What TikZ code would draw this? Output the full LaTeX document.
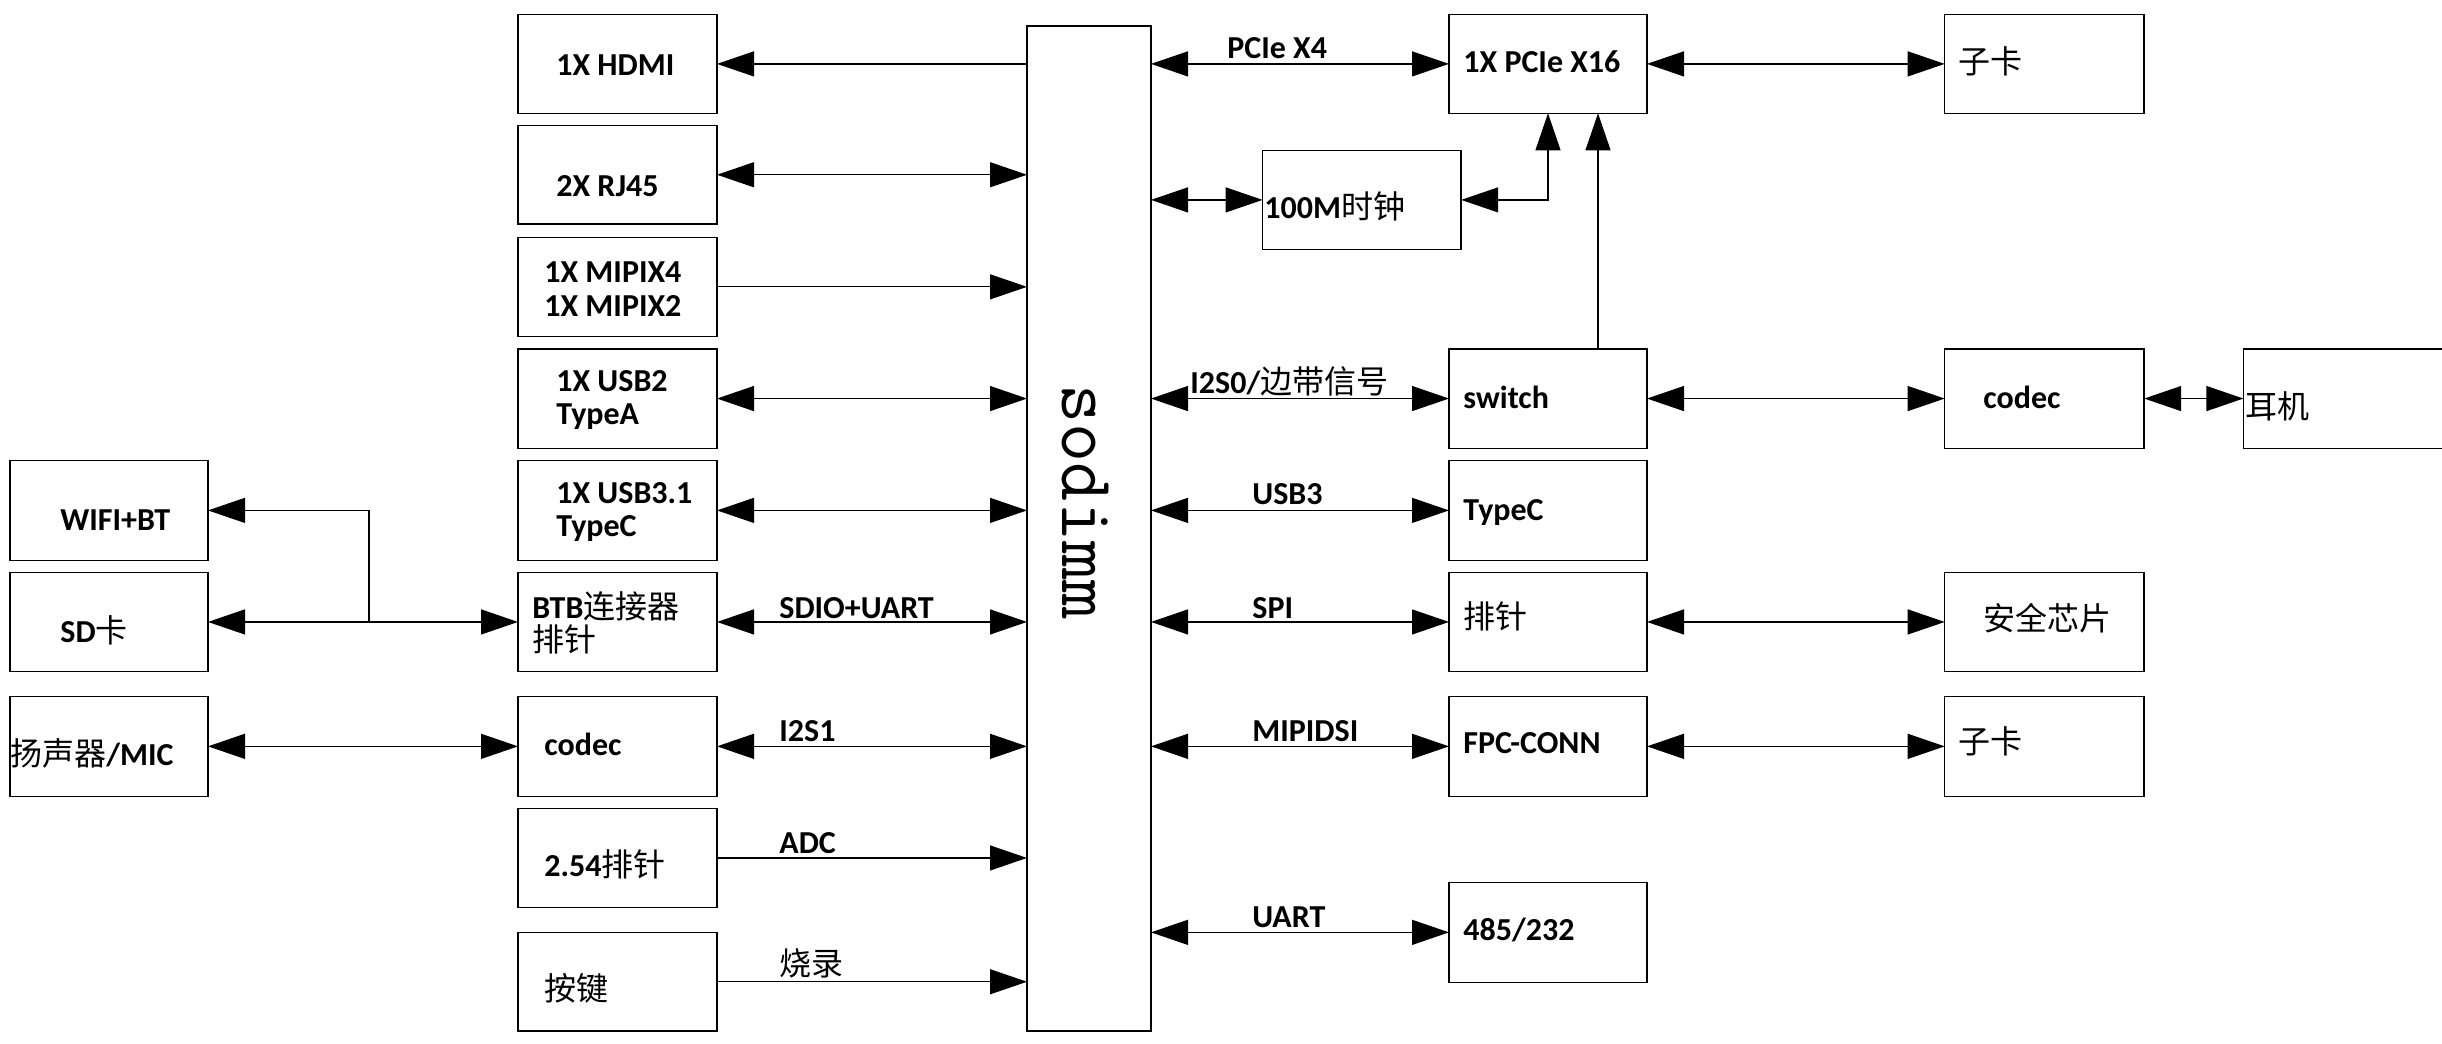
\documentclass[tikz,border=0pt]{standalone}
\usepackage{fontspec}
\setmainfont{Carlito}
\newfontfamily\zhfont{Noto Sans CJK SC}
\usetikzlibrary{arrows.meta}
\newcommand\zh[1]{{\zhfont\mdseries #1}}
\newcommand\bx[5]{\node[box, minimum width=(#4-#2)*0.5pt, minimum height=(#5-#3)*0.5pt] (#1) at ({(#2+#4)/2},{(#3+#5)/2}) {};}
\begin{document}
\begin{tikzpicture}[x=0.5pt,y=-0.5pt,
  box/.style={draw, line width=0.75pt, inner sep=0pt, outer sep=0pt},
  ln/.style={line width=0.6pt},
  >={Triangle[length=18.5pt,width=12.5pt]},
  lb/.style={anchor=base west, inner sep=0pt, font=\bfseries\fontsize{16}{16.5}\selectfont},
  lb2/.style={anchor=west, inner sep=0pt, align=left, font=\bfseries\fontsize{16}{16.8}\selectfont}]
\useasboundingbox (0,0) rectangle (2442,1044);
% left column
\bx{hdmi}{518}{14.5}{717}{113.3}
\bx{rj}{518}{125.3}{717}{224.2}
\bx{mipi}{518}{237.3}{717}{336.4}
\bx{usbtwo}{518}{348.8}{717}{448.3}
\bx{usbthree}{518}{460.4}{717}{560.4}
\bx{btb}{518}{572.5}{717}{671.4}
\bx{codecL}{518}{696.4}{717}{796.3}
\bx{pin}{518}{808.5}{717}{907.4}
\bx{key}{518}{932.3}{717}{1031.2}
% far left
\bx{wifi}{10}{460.4}{208}{560.4}
\bx{sd}{10}{572.5}{208}{671.4}
\bx{spk}{10}{696.4}{208}{796.3}
% sodimm
\bx{sod}{1027}{25.8}{1151}{1031.2}
% right side
\bx{pcie}{1449}{14.5}{1647}{113.3}
\bx{zkone}{1944.7}{14.5}{2144.2}{113.3}
\bx{clk}{1262.6}{150.5}{1461.2}{249.3}
\bx{sw}{1449}{348.8}{1647}{448.3}
\bx{codecR}{1944.7}{348.8}{2144.2}{448.3}
\bx{ej}{2243.4}{348.8}{2452}{448.3}
\bx{typecR}{1449}{460.4}{1647}{560.4}
\bx{pinR}{1449}{572.5}{1647}{671.4}
\bx{chip}{1944.7}{572.5}{2144.2}{671.4}
\bx{fpc}{1449}{696.4}{1647}{796.3}
\bx{zktwo}{1944.7}{696.4}{2144.2}{796.3}
\bx{rs}{1449}{882.4}{1647}{982.3}

% texts
\node[lb] (t1) at (556,75) {1X HDMI};
\node[lb] (t2) at (556,196) {2X RJ45};
\node[lb2] (t3) at (544,289) {1X MIPIX4\\1X MIPIX2};
\node[lb2] (t4) at (556,400) {1X USB2\\TypeA};
\node[lb2] (t5) at (556,512) {1X USB3.1\\TypeC};
\node[lb2] (t6) at (532,623) {BTB\zh{连接器}\\\zh{排针}};
\node[lb] (t7) at (544,755) {codec};
\node[lb] (t8) at (544,876) {2.54\zh{排针}};
\node[lb] (t9) at (544,1000) {\zh{按键}};
\node[lb] (t10) at (60,530) {WIFI+BT};
\node[lb] (t11) at (60,642) {SD\zh{卡}};
\node[lb] (t12) at (10,765) {\zh{扬声器}/MIC};
\node[lb] (t13) at (779,618) {SDIO+UART};
\node[lb] (t14) at (779,741) {I2S1};
\node[lb] (t15) at (779,853) {ADC};
\node[lb] (t16) at (779,975) {\zh{烧录}};
\node[lb] (t17) at (1227,58) {PCIe X4};
\node[lb] (t18) at (1190,393) {I2S0/\zh{边带信号}};
\node[lb] (t19) at (1252,504) {USB3};
\node[lb] (t20) at (1252,618) {SPI};
\node[lb] (t21) at (1252,741) {MIPIDSI};
\node[lb] (t22) at (1252,927) {UART};
\node[lb] (t23) at (1463,72) {1X PCIe X16};
\node[lb] (t24) at (1958,73) {\zh{子卡}};
\node[lb] (t25) at (1264,218) {100M\zh{时钟}};
\node[lb] (t26) at (1463,408) {switch};
\node[lb] (t27) at (1983,408) {codec};
\node[lb] (t28) at (2245,418) {\zh{耳机}};
\node[lb] (t29) at (1463,520) {TypeC};
\node[lb] (t30) at (1463,628) {\zh{排针}};
\node[lb] (t31) at (1983,630) {\zh{安全芯片}};
\node[lb] (t32) at (1463,753) {FPC-CONN};
\node[lb] (t33) at (1958,753) {\zh{子卡}};
\node[lb] (t34) at (1463,940) {485/232};
\node[rotate=-90, inner sep=0pt, font=\ttfamily\mdseries\fontsize{38}{40}\selectfont] (sodtxt) at (1085,502) {sodimm};

% left connectors
\draw[ln,->] (hdmi.east -| sod.west) -- (hdmi.east);
\draw[ln,<->] (rj.east) -- (rj.east -| sod.west);
\draw[ln,->] (mipi.east) -- (mipi.east -| sod.west);
\draw[ln,<->] (usbtwo.east) -- (usbtwo.east -| sod.west);
\draw[ln,<->] (usbthree.east) -- (usbthree.east -| sod.west);
\draw[ln,<->] (btb.east) -- (btb.east -| sod.west);
\draw[ln,<->] (codecL.east) -- (codecL.east -| sod.west);
\draw[ln,->] (pin.east) -- (pin.east -| sod.west);
\draw[ln,->] (key.east) -- (key.east -| sod.west);
\draw[ln,<->] (sd.east) -- (btb.west);
\draw[ln,->] ([xshift=80.5pt]sd.east) |- (wifi.east);
\draw[ln,<->] (spk.east) -- (codecL.west);
% right connectors
\draw[ln,<->] (pcie.west -| sod.east) -- (pcie.west);
\draw[ln,<->] (clk.west -| sod.east) -- (clk.west);
\draw[ln,<->] (sw.west -| sod.east) -- (sw.west);
\draw[ln,<->] (typecR.west -| sod.east) -- (typecR.west);
\draw[ln,<->] (pinR.west -| sod.east) -- (pinR.west);
\draw[ln,<->] (fpc.west -| sod.east) -- (fpc.west);
\draw[ln,<->] (rs.west -| sod.east) -- (rs.west);
\draw[ln,<->] (pcie.east) -- (zkone.west);
\draw[ln,<->] (sw.east) -- (codecR.west);
\draw[ln,<->] (codecR.east) -- (ej.west);
\draw[ln,<->] (pinR.east) -- (chip.west);
\draw[ln,<->] (fpc.east) -- (zktwo.west);
\draw[ln,<->] (clk.east) -| (pcie.south);
\draw[ln,->] ([xshift=25pt]sw.north) -- ([xshift=25pt]pcie.south);
\end{tikzpicture}
\end{document}
